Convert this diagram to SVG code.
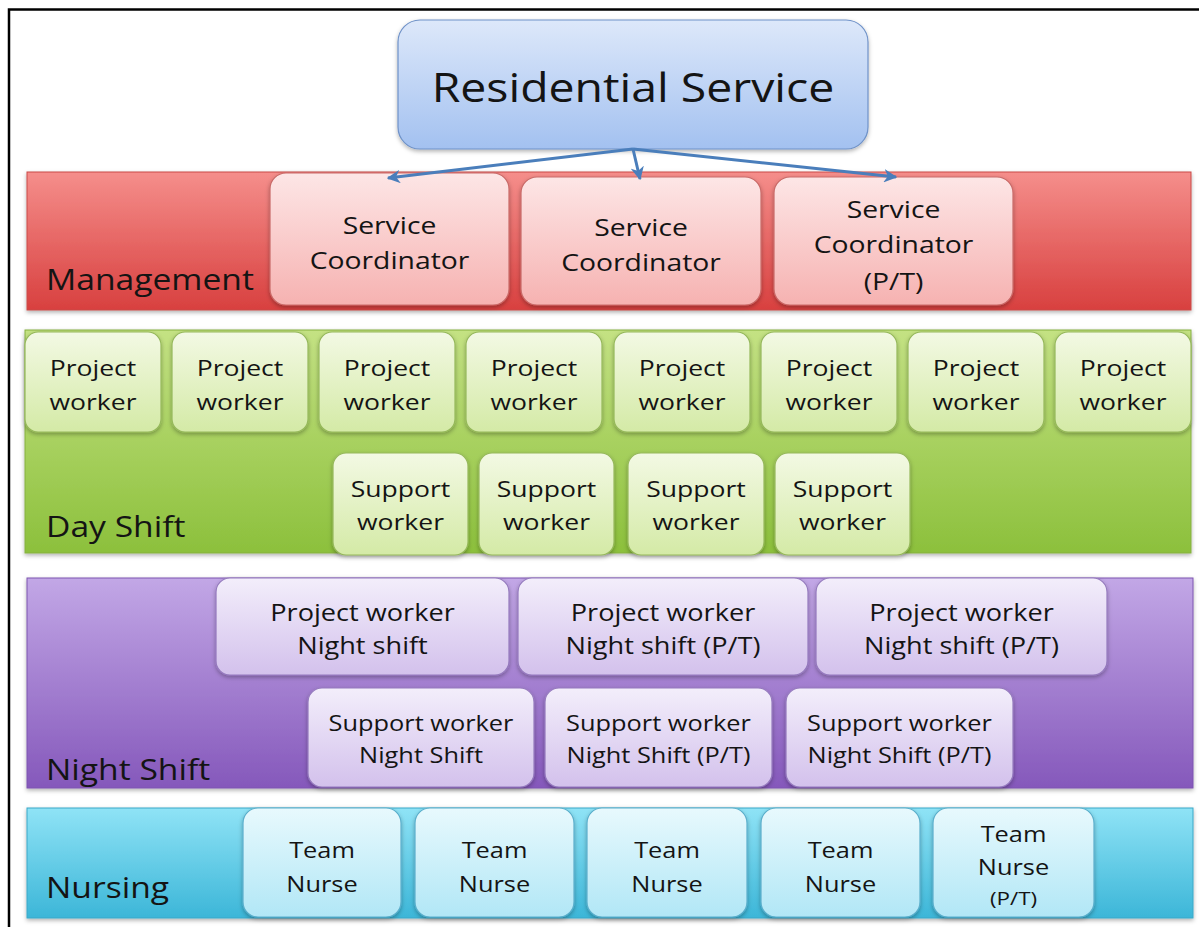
<svg xmlns="http://www.w3.org/2000/svg" width="1199" height="927" viewBox="0 0 1199 927">
  <defs>
    <linearGradient id="gTitle" x1="0" y1="0" x2="0" y2="1">
      <stop offset="0" stop-color="#dde8fa"/>
      <stop offset="1" stop-color="#a3c1f0"/>
    </linearGradient>
    <linearGradient id="gRedBand" x1="0" y1="0" x2="0" y2="1">
      <stop offset="0" stop-color="#f58e8b"/>
      <stop offset="1" stop-color="#d8403f"/>
    </linearGradient>
    <linearGradient id="gRedBox" x1="0" y1="0" x2="0" y2="1">
      <stop offset="0" stop-color="#fde6e6"/>
      <stop offset="1" stop-color="#f6b2b1"/>
    </linearGradient>
    <linearGradient id="gGreenBand" x1="0" y1="0" x2="0" y2="1">
      <stop offset="0" stop-color="#c4e283"/>
      <stop offset="1" stop-color="#8cc03c"/>
    </linearGradient>
    <linearGradient id="gGreenBox" x1="0" y1="0" x2="0" y2="1">
      <stop offset="0" stop-color="#f3f9e4"/>
      <stop offset="1" stop-color="#d4eaa6"/>
    </linearGradient>
    <linearGradient id="gPurpleBand" x1="0" y1="0" x2="0" y2="1">
      <stop offset="0" stop-color="#c2a7e6"/>
      <stop offset="1" stop-color="#8558bb"/>
    </linearGradient>
    <linearGradient id="gPurpleBox" x1="0" y1="0" x2="0" y2="1">
      <stop offset="0" stop-color="#f3eefb"/>
      <stop offset="1" stop-color="#d3c1ec"/>
    </linearGradient>
    <linearGradient id="gBlueBand" x1="0" y1="0" x2="0" y2="1">
      <stop offset="0" stop-color="#8fe3f6"/>
      <stop offset="1" stop-color="#3cb6d8"/>
    </linearGradient>
    <linearGradient id="gBlueBox" x1="0" y1="0" x2="0" y2="1">
      <stop offset="0" stop-color="#e8f9fd"/>
      <stop offset="1" stop-color="#b1e7f6"/>
    </linearGradient>
    <filter id="shadow" x="-5%" y="-5%" width="110%" height="120%">
      <feDropShadow dx="0" dy="2" stdDeviation="2" flood-color="#000" flood-opacity="0.3"/>
    </filter>
    <marker id="arrow" viewBox="0 0 10 10" refX="9" refY="5" markerWidth="4.5" markerHeight="4.5" orient="auto" markerUnits="strokeWidth">
      <path d="M0,0 L10,5 L0,10 L3,5 Z" fill="#4a7ebb"/>
    </marker>
    <style>
      text { font-family: "Open Sans", "Noto Sans", "Liberation Sans", sans-serif; fill: #141414; }
      .c { text-anchor: middle; }
      .title { font-size: 40px; }
      .label { font-size: 28.5px; }
      .sc { font-size: 24px; }
      .dw { font-size: 22.5px; }
      .npw { font-size: 23px; }
      .nsw { font-size: 21.5px; }
      .tn { font-size: 21.5px; }
      .small { font-size: 19px; }
      .band { filter: url(#shadow); }
      .box { filter: url(#shadow); stroke-width: 1.2; }
      .red { fill: url(#gRedBox); stroke: #c96a68; }
      .green { fill: url(#gGreenBox); stroke: #95b85a; }
      .purple { fill: url(#gPurpleBox); stroke: #9479bd; }
      .blue { fill: url(#gBlueBox); stroke: #5aaecb; }
      .conn { stroke: #4a7ebb; stroke-width: 3; fill: none; marker-end: url(#arrow); }
    </style>
  </defs>

  <rect width="1199" height="927" fill="#ffffff"/>
  <!-- frame -->
  <path d="M9,927 L9,9.5 L1199,9.5" fill="none" stroke="#000" stroke-width="2.5"/>

  <!-- top node -->
  <g id="residential-service">
    <rect class="box" x="398" y="20" width="470" height="129" rx="22" fill="url(#gTitle)" stroke="#6f92c8"/>
    <text class="title c" transform="translate(633,102) scale(1.16,1)">Residential Service</text>
  </g>

  <!-- Management band -->
  <g id="management">
    <rect class="band" x="27" y="172" width="1164" height="138" fill="url(#gRedBand)" stroke="#c94a48" stroke-width="1"/>
    <text class="label" transform="translate(46,290) scale(1.18,1)">Management</text>
  </g>
  <g id="coordinator-1">
    <rect class="box red" x="270" y="173" width="239" height="132" rx="16"/>
    <text class="sc c" transform="translate(389.5,234) scale(1.18,1)"><tspan x="0">Service</tspan><tspan x="0" dy="35">Coordinator</tspan></text>
  </g>
  <g id="coordinator-2">
    <rect class="box red" x="521" y="177" width="240" height="128" rx="16"/>
    <text class="sc c" transform="translate(641,236) scale(1.18,1)"><tspan x="0">Service</tspan><tspan x="0" dy="35">Coordinator</tspan></text>
  </g>
  <g id="coordinator-3">
    <rect class="box red" x="774" y="177" width="239" height="128" rx="16"/>
    <text class="sc c" transform="translate(893.5,218) scale(1.18,1)"><tspan x="0">Service</tspan><tspan x="0" dy="35">Coordinator</tspan><tspan x="0" dy="37">(P/T)</tspan></text>
  </g>

  <!-- Day shift band -->
  <g id="day-shift">
    <rect class="band" x="25" y="330" width="1166" height="223" fill="url(#gGreenBand)" stroke="#86b040" stroke-width="1"/>
    <text class="label" transform="translate(46,537) scale(1.18,1)">Day Shift</text>
  </g>
  <g id="day-project-1"><rect class="box green" x="25" y="332" width="136" height="100" rx="13"/><text class="dw c" transform="translate(93,376) scale(1.18,1)"><tspan x="0">Project</tspan><tspan x="0" dy="34">worker</tspan></text></g>
  <g id="day-project-2"><rect class="box green" x="172" y="332" width="136" height="100" rx="13"/><text class="dw c" transform="translate(240,376) scale(1.18,1)"><tspan x="0">Project</tspan><tspan x="0" dy="34">worker</tspan></text></g>
  <g id="day-project-3"><rect class="box green" x="319" y="332" width="136" height="100" rx="13"/><text class="dw c" transform="translate(387,376) scale(1.18,1)"><tspan x="0">Project</tspan><tspan x="0" dy="34">worker</tspan></text></g>
  <g id="day-project-4"><rect class="box green" x="466" y="332" width="136" height="100" rx="13"/><text class="dw c" transform="translate(534,376) scale(1.18,1)"><tspan x="0">Project</tspan><tspan x="0" dy="34">worker</tspan></text></g>
  <g id="day-project-5"><rect class="box green" x="614" y="332" width="136" height="100" rx="13"/><text class="dw c" transform="translate(682,376) scale(1.18,1)"><tspan x="0">Project</tspan><tspan x="0" dy="34">worker</tspan></text></g>
  <g id="day-project-6"><rect class="box green" x="761" y="332" width="136" height="100" rx="13"/><text class="dw c" transform="translate(829,376) scale(1.18,1)"><tspan x="0">Project</tspan><tspan x="0" dy="34">worker</tspan></text></g>
  <g id="day-project-7"><rect class="box green" x="908" y="332" width="136" height="100" rx="13"/><text class="dw c" transform="translate(976,376) scale(1.18,1)"><tspan x="0">Project</tspan><tspan x="0" dy="34">worker</tspan></text></g>
  <g id="day-project-8"><rect class="box green" x="1055" y="332" width="136" height="100" rx="13"/><text class="dw c" transform="translate(1123,376) scale(1.18,1)"><tspan x="0">Project</tspan><tspan x="0" dy="34">worker</tspan></text></g>

  <g id="day-support-1"><rect class="box green" x="333" y="453" width="135" height="102" rx="13"/><text class="dw c" transform="translate(400.5,497) scale(1.18,1)"><tspan x="0">Support</tspan><tspan x="0" dy="33">worker</tspan></text></g>
  <g id="day-support-2"><rect class="box green" x="479" y="453" width="135" height="102" rx="13"/><text class="dw c" transform="translate(546.5,497) scale(1.18,1)"><tspan x="0">Support</tspan><tspan x="0" dy="33">worker</tspan></text></g>
  <g id="day-support-3"><rect class="box green" x="628" y="453" width="136" height="102" rx="13"/><text class="dw c" transform="translate(696,497) scale(1.18,1)"><tspan x="0">Support</tspan><tspan x="0" dy="33">worker</tspan></text></g>
  <g id="day-support-4"><rect class="box green" x="775" y="453" width="135" height="102" rx="13"/><text class="dw c" transform="translate(842.5,497) scale(1.18,1)"><tspan x="0">Support</tspan><tspan x="0" dy="33">worker</tspan></text></g>

  <!-- Night shift band -->
  <g id="night-shift">
    <rect class="band" x="27" y="578" width="1166" height="210" fill="url(#gPurpleBand)" stroke="#7d55b0" stroke-width="1"/>
    <text class="label" transform="translate(46,780) scale(1.18,1)">Night Shift</text>
  </g>
  <g id="night-project-1"><rect class="box purple" x="216" y="578" width="293" height="97" rx="14"/><text class="npw c" transform="translate(362.5,621) scale(1.18,1)"><tspan x="0">Project worker</tspan><tspan x="0" dy="33">Night shift</tspan></text></g>
  <g id="night-project-2"><rect class="box purple" x="518" y="578" width="290" height="97" rx="14"/><text class="npw c" transform="translate(663,621) scale(1.18,1)"><tspan x="0">Project worker</tspan><tspan x="0" dy="33">Night shift (P/T)</tspan></text></g>
  <g id="night-project-3"><rect class="box purple" x="816" y="578" width="291" height="97" rx="14"/><text class="npw c" transform="translate(961.5,621) scale(1.18,1)"><tspan x="0">Project worker</tspan><tspan x="0" dy="33">Night shift (P/T)</tspan></text></g>

  <g id="night-support-1"><rect class="box purple" x="308" y="688" width="226" height="99" rx="14"/><text class="nsw c" transform="translate(421,731) scale(1.18,1)"><tspan x="0">Support worker</tspan><tspan x="0" dy="32">Night Shift</tspan></text></g>
  <g id="night-support-2"><rect class="box purple" x="545" y="688" width="227" height="99" rx="14"/><text class="nsw c" transform="translate(658.5,731) scale(1.18,1)"><tspan x="0">Support worker</tspan><tspan x="0" dy="32">Night Shift (P/T)</tspan></text></g>
  <g id="night-support-3"><rect class="box purple" x="786" y="688" width="227" height="99" rx="14"/><text class="nsw c" transform="translate(899.5,731) scale(1.18,1)"><tspan x="0">Support worker</tspan><tspan x="0" dy="32">Night Shift (P/T)</tspan></text></g>

  <!-- Nursing band -->
  <g id="nursing">
    <rect class="band" x="27" y="808" width="1166" height="110" fill="url(#gBlueBand)" stroke="#3aa8c8" stroke-width="1"/>
    <text class="label" transform="translate(46,898) scale(1.18,1)">Nursing</text>
  </g>
  <g id="nurse-1"><rect class="box blue" x="243" y="808" width="158" height="109" rx="15"/><text class="tn c" transform="translate(322,858) scale(1.18,1)"><tspan x="0">Team</tspan><tspan x="0" dy="34">Nurse</tspan></text></g>
  <g id="nurse-2"><rect class="box blue" x="415" y="808" width="159" height="109" rx="15"/><text class="tn c" transform="translate(494.5,858) scale(1.18,1)"><tspan x="0">Team</tspan><tspan x="0" dy="34">Nurse</tspan></text></g>
  <g id="nurse-3"><rect class="box blue" x="587" y="808" width="160" height="109" rx="15"/><text class="tn c" transform="translate(667,858) scale(1.18,1)"><tspan x="0">Team</tspan><tspan x="0" dy="34">Nurse</tspan></text></g>
  <g id="nurse-4"><rect class="box blue" x="761" y="808" width="159" height="109" rx="15"/><text class="tn c" transform="translate(840.5,858) scale(1.18,1)"><tspan x="0">Team</tspan><tspan x="0" dy="34">Nurse</tspan></text></g>
  <g id="nurse-5"><rect class="box blue" x="933" y="808" width="161" height="109" rx="15"/><text class="tn c" transform="translate(1013.5,842) scale(1.18,1)"><tspan x="0">Team</tspan><tspan x="0" dy="33">Nurse</tspan><tspan class="small" x="0" dy="30">(P/T)</tspan></text></g>

  <!-- connectors from the top node -->
  <g id="connectors">
    <path class="conn" d="M633,149 L388,178"/>
    <path class="conn" d="M633,149 L640,179"/>
    <path class="conn" d="M633,149 L896,177"/>
  </g>
</svg>
